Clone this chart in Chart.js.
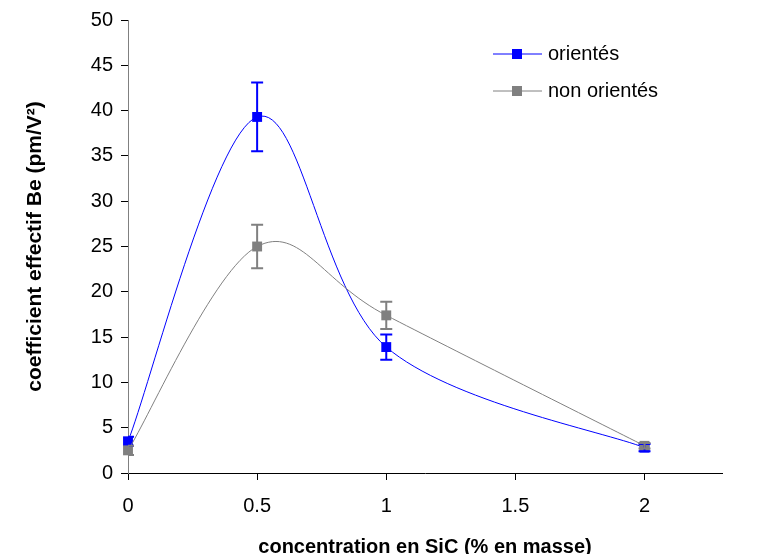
<!DOCTYPE html>
<html>
<head>
<meta charset="utf-8">
<script src="https://cdn.jsdelivr.net/npm/chart.js@4/dist/chart.umd.min.js"></script>
<style>
  html, body { margin: 0; padding: 0; background: #fff; }
  #wrap { width: 760px; height: 554px; }
</style>
</head>
<body>
<div id="wrap"><canvas id="chart" width="760" height="554"></canvas></div>
<script>
// valeurs
const concentrations = [0, 0.5, 1, 2];
const orientes = [3.5, 39.3, 13.9, 2.8];
const orientesErr = [0.5, 3.8, 1.4, 0.4];
const nonOrientes = [2.5, 25.0, 17.4, 3.0];
const nonOrientesErr = [0.5, 2.4, 1.5, 0.3];
const xTicks = [0, 0.5, 1, 1.5, 2];
const yTicks = [0, 5, 10, 15, 20, 25, 30, 35, 40, 45, 50];
const seriesLabels = ['orientés', 'non orientés'];

const BLUE = '#0000ff';
const GRAY = '#808080';
const FONT = "'Liberation Sans', Arial, sans-serif";

const toPoints = (ys) => concentrations.map((x, i) => ({ x: x, y: ys[i] }));

// lissage facon Excel (Catmull-Rom, poignees = 1/6)
const excelSmooth = {
  id: 'excelSmooth',
  beforeDatasetsDraw(chart) {
    chart.data.datasets.forEach((ds, di) => {
      const meta = chart.getDatasetMeta(di);
      const pts = meta.data;
      const n = pts.length;
      for (let i = 0; i < n; i++) {
        const prev = pts[Math.max(i - 1, 0)];
        const next = pts[Math.min(i + 1, n - 1)];
        const tx = (next.x - prev.x) / 6;
        const ty = (next.y - prev.y) / 6;
        pts[i].cp1x = pts[i].x - tx;
        pts[i].cp1y = pts[i].y - ty;
        pts[i].cp2x = pts[i].x + tx;
        pts[i].cp2y = pts[i].y + ty;
      }
      meta.dataset._pointsUpdated = true;
    });
  }
};

// barres d'erreur dessinees via les echelles
const errorBars = {
  id: 'errorBars',
  afterDatasetsDraw(chart) {
    const ctx = chart.ctx;
    const xs = chart.scales.x, ys = chart.scales.y;
    const area = chart.chartArea;
    ctx.save();
    ctx.beginPath();
    ctx.rect(area.left, area.top - 10, area.right - area.left, area.bottom - area.top + 10);
    ctx.clip();
    chart.data.datasets.forEach((ds) => {
      ctx.strokeStyle = ds.borderColor;
      ctx.lineWidth = 2;
      ds.data.forEach((p, i) => {
        const e = ds.errors[i];
        const px = xs.getPixelForValue(p.x);
        const top = ys.getPixelForValue(p.y + e);
        const bot = ys.getPixelForValue(p.y - e);
        ctx.beginPath();
        ctx.moveTo(px, top); ctx.lineTo(px, bot);
        ctx.moveTo(px - 6, top); ctx.lineTo(px + 6, top);
        ctx.moveTo(px - 6, bot); ctx.lineTo(px + 6, bot);
        ctx.stroke();
      });
    });
    ctx.restore();
  }
};

// legende dans la zone du graphique
const insideLegend = {
  id: 'insideLegend',
  afterDraw(chart) {
    const ctx = chart.ctx;
    const entries = [
      { label: seriesLabels[0], color: BLUE, y: 54 },
      { label: seriesLabels[1], color: GRAY, y: 91 }
    ];
    ctx.save();
    entries.forEach((en) => {
      ctx.strokeStyle = en.color;
      ctx.lineWidth = 1;
      ctx.beginPath();
      ctx.moveTo(493, en.y); ctx.lineTo(542, en.y);
      ctx.stroke();
      ctx.fillStyle = en.color;
      ctx.fillRect(512, en.y - 5, 10, 10);
      ctx.fillStyle = '#000';
      ctx.font = '20px ' + FONT;
      ctx.textBaseline = 'middle';
      ctx.textAlign = 'left';
      ctx.fillText(en.label, 548, en.y);
    });
    ctx.restore();
  }
};

new Chart(document.getElementById('chart'), {
  type: 'line',
  data: {
    datasets: [
      {
        label: seriesLabels[0],
        data: toPoints(orientes),
        errors: orientesErr,
        borderColor: BLUE,
        backgroundColor: BLUE,
        borderWidth: 1,
        pointStyle: 'rect',
        pointRadius: 7,
        pointBorderWidth: 0,
        tension: 0.3,
        order: 1
      },
      {
        label: seriesLabels[1],
        data: toPoints(nonOrientes),
        errors: nonOrientesErr,
        borderColor: GRAY,
        backgroundColor: GRAY,
        borderWidth: 1,
        pointStyle: 'rect',
        pointRadius: 7,
        pointBorderWidth: 0,
        tension: 0.3,
        order: 0
      }
    ]
  },
  options: {
    responsive: false,
    animation: false,
    clip: false,
    layout: { padding: { top: 19, right: 38, left: 0, bottom: 0 } },
    plugins: {
      legend: { display: false },
      tooltip: { enabled: false }
    },
    scales: {
      x: {
        type: 'linear',
        min: 0,
        max: 2.3,
        afterBuildTicks: (scale) => { scale.ticks = xTicks.map(v => ({ value: v })); },
        afterFit: (scale) => { scale.height = 81; },
        grid: { drawOnChartArea: false, color: '#000', tickLength: 7 },
        border: { color: '#000', width: 1 },
        ticks: {
          color: '#000', padding: 14, font: { family: FONT, size: 20 },
          callback: (v) => String(v)
        },
        title: {
          display: true,
          text: 'concentration en SiC (% en masse)',
          color: '#000',
          font: { family: FONT, size: 20, weight: 'bold' },
          padding: { top: 0, bottom: -5 }
        }
      },
      y: {
        min: 0,
        max: 50,
        afterBuildTicks: (scale) => { scale.ticks = yTicks.map(v => ({ value: v })); },
        afterFit: (scale) => { scale.width = 128; },
        grid: { drawOnChartArea: false, color: '#000', tickLength: 7 },
        border: { color: GRAY, width: 1 },
        ticks: { color: '#000', padding: 8, font: { family: FONT, size: 20 } },
        title: {
          display: true,
          text: 'coefficient effectif Be (pm/V²)',
          color: '#000',
          font: { family: FONT, size: 21, weight: 'bold' },
          padding: { top: 23, bottom: 0 }
        }
      }
    }
  },
  plugins: [excelSmooth, errorBars, insideLegend]
});
</script>
</body>
</html>
